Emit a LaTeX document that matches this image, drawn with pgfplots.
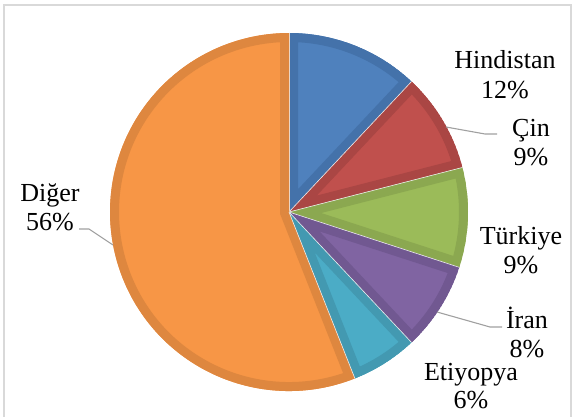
\documentclass[border=0pt]{standalone}
\usepackage{pgfplots}
\pgfplotsset{compat=1.18}
\usepackage{pgfplotstable}
\usepackage{fontspec}
\setmainfont{Liberation Serif}

\definecolor{fill0}{RGB}{79,129,189}   \definecolor{bord0}{RGB}{68,114,170}
\definecolor{fill1}{RGB}{192,80,77}    \definecolor{bord1}{RGB}{170,70,68}
\definecolor{fill2}{RGB}{155,187,89}   \definecolor{bord2}{RGB}{139,168,80}
\definecolor{fill3}{RGB}{128,100,162}  \definecolor{bord3}{RGB}{113,88,145}
\definecolor{fill4}{RGB}{75,172,198}   \definecolor{bord4}{RGB}{67,153,177}
\definecolor{fill5}{RGB}{247,150,70}   \definecolor{bord5}{RGB}{222,135,63}
\definecolor{framegray}{RGB}{217,217,217}
\definecolor{leader}{RGB}{160,160,160}

\newcommand{\lbl}[1]{{\fontsize{26}{30}\selectfont #1}}

\pgfplotstableread{
label pct
Hindistan 12
Cin 9
Turkiye 9
Iran 8
Etiyopya 6
Diger 56
}\datatable

\begin{document}
\begin{tikzpicture}
\useasboundingbox (0,0) rectangle (575pt,416pt);
\clip (0,0) rectangle (575pt,416pt);
\begin{axis}[x=1pt, y=1pt, xmin=0, xmax=575, ymin=0, ymax=416,
  hide axis, clip=false, scale only axis]
\pgfplotsextra{
  % frame
  \draw[framegray, line width=1.2pt] (axis cs:4,-10) -- (axis cs:4,411) -- (axis cs:571,411) -- (axis cs:571,-10);
  \xdef\angA{90}
  \pgfplotsforeachungrouped \i in {0,...,5}{%
    \pgfplotstablegetelem{\i}{pct}\of\datatable
    \pgfmathsetmacro\angB{\angA-3.6*\pgfplotsretval}%
    \begin{scope}
      \clip (axis cs:289,204) -- ++(\angA:179pt) arc[start angle=\angA, end angle=\angB, radius=179pt] -- cycle;
      \filldraw[fill=fill\i, draw=bord\i, line width=18pt] (axis cs:289,204) -- ++(\angA:179pt) arc[start angle=\angA, end angle=\angB, radius=179pt] -- cycle;
    \end{scope}
    \draw[white!85!gray, line width=0.6pt] (axis cs:289,204) -- ++(\angA:179pt);
    \xdef\angA{\angB}%
  }
  % leader lines
  \draw[leader, line width=1.1pt] (axis cs:446,289) -- (axis cs:485,282) -- (axis cs:497,282);
  \draw[leader, line width=1.1pt] (axis cs:437,104) -- (axis cs:490,89) -- (axis cs:502,89);
  \draw[leader, line width=1.1pt] (axis cs:79,187) -- (axis cs:89,187) -- (axis cs:113,171);
  % labels
  \path[every node/.style={anchor=base, inner sep=0pt}]
    (axis cs:505,348) node {\lbl{Hindistan}}
    (axis cs:505,318) node {\lbl{12\%}}
    (axis cs:531,280) node {\lbl{Çin}}
    (axis cs:531,251) node {\lbl{9\%}}
    (axis cs:521,172) node {\lbl{Türkiye}}
    (axis cs:521,143) node {\lbl{9\%}}
    (axis cs:527,88) node {\lbl{İran}}
    (axis cs:527,59) node {\lbl{8\%}}
    (axis cs:471,36) node {\lbl{Etiyopya}}
    (axis cs:471,8) node {\lbl{6\%}}
    (axis cs:50,215) node {\lbl{Diğer}}
    (axis cs:50,186) node {\lbl{56\%}};
}
\end{axis}
\end{tikzpicture}
\end{document}
